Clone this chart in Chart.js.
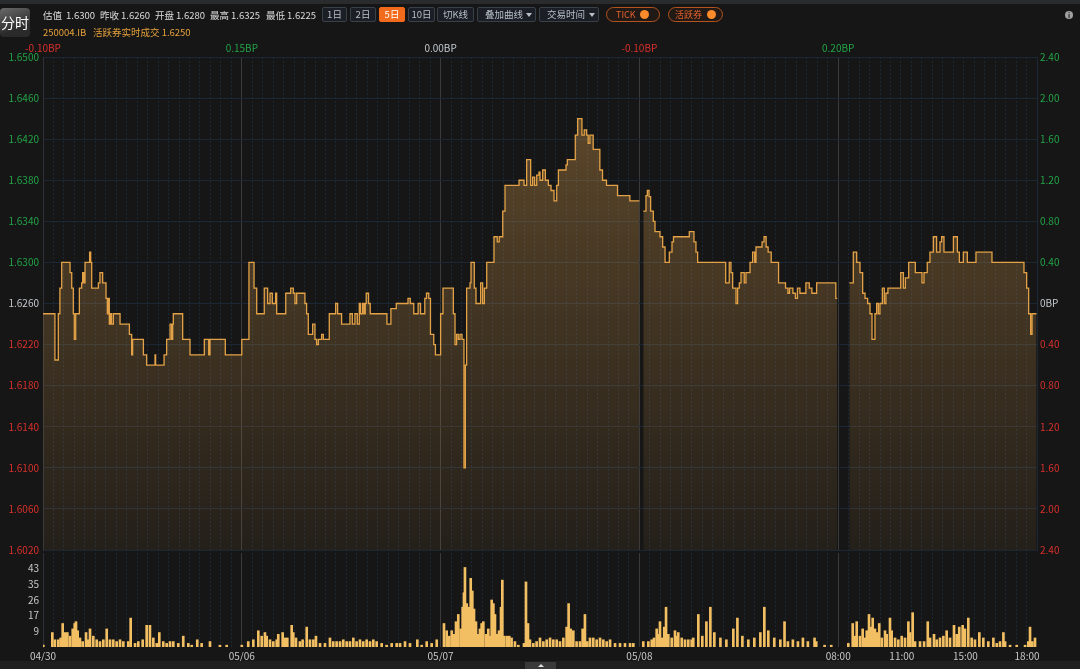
<!DOCTYPE html>
<html lang="zh">
<head>
<meta charset="UTF-8">
<title>250004.IB 分时</title>
<script src="https://cdn.jsdelivr.net/npm/chart.js"></script>
<style>
  body { margin: 0; background: #161616; width: 1080px; height: 669px; overflow: hidden; position: relative;
         font-family: "Noto Sans CJK SC", "Noto Sans", sans-serif; }
  canvas { position: absolute; left: 0; top: 0; }
  .strip { position: absolute; left: 0; top: 0; width: 1080px; height: 4px; background: #2a2b2d; }
  .strip.bottom { top: 661px; height: 8px; background: #1f1f1f; }
  .tab { position: absolute; left: 525px; top: 662px; width: 31px; height: 7px; background: #3a3a3a; }
  .tab:after { content: ""; position: absolute; left: 13px; top: 2px; border-left: 3px solid transparent;
               border-right: 3px solid transparent; border-bottom: 3px solid #ddd; }
  .fs { position: absolute; left: 0; top: 8px; width: 30px; height: 29px; border-radius: 4px;
        background: linear-gradient(160deg, #6a6a6a, #2a2a2a 70%); color: #fff; font-size: 14px;
        line-height: 29px; text-align: center; }
  .t { position: absolute; font-size: 9.5px; color: #dcdcdc; white-space: nowrap; line-height: 12px; }
  .t.o { color: #e6a23c; }
  .btn { position: absolute; top: 7px; height: 15px; box-sizing: border-box; border: 1px solid #38404a;
         background: #1b1f25; color: #b8bfc7; font-size: 9.5px; line-height: 13px; text-align: center; border-radius: 2px; }
  .btn.on { background: #f26a1b; border-color: #f26a1b; color: #fff; }
  .btn.dd { text-align: left; padding-left: 7px; }
  .btn.dd:after { content: ""; position: absolute; right: 3px; top: 5px; border-left: 3px solid transparent;
                  border-right: 3px solid transparent; border-top: 4px solid #b8bfc7; }
  .pill { position: absolute; top: 7px; height: 15px; box-sizing: border-box; border: 1px solid #b4531e;
          background: #201915; color: #e4622c; font-size: 9px; line-height: 13px; border-radius: 8px; }
  .pill i { position: absolute; top: 2px; width: 9px; height: 9px; border-radius: 50%; background: #f98b2a; }
  .info { position: absolute; left: 1065px; top: 11px; width: 8px; height: 8px; border-radius: 50%; background: #a0a0a0;
          color: #222; font-size: 7px; line-height: 8px; text-align: center; font-weight: bold; }
</style>
</head>
<body>
<canvas id="priceChart" width="1080" height="669"></canvas>
<canvas id="volChart" width="1080" height="669"></canvas>

<div class="strip"></div>
<div class="strip bottom"></div>
<div class="tab"></div>
<div class="fs">分时</div>

<div class="t" style="left:43px;top:9px">估值</div><div class="t" style="left:66px;top:9px">1.6300</div>
<div class="t" style="left:100px;top:9px">昨收</div><div class="t" style="left:121px;top:9px">1.6260</div>
<div class="t" style="left:155px;top:9px">开盘</div><div class="t" style="left:176px;top:9px">1.6280</div>
<div class="t" style="left:210px;top:9px">最高</div><div class="t" style="left:231px;top:9px">1.6325</div>
<div class="t" style="left:266px;top:9px">最低</div><div class="t" style="left:287px;top:9px">1.6225</div>
<div class="t o" style="left:43px;top:26px">250004.IB</div>
<div class="t o" style="left:93px;top:26px">活跃券实时成交 1.6250</div>

<div class="btn" style="left:322px;width:25px">1日</div>
<div class="btn" style="left:350px;width:26px">2日</div>
<div class="btn on" style="left:379px;width:26px">5日</div>
<div class="btn" style="left:408px;width:27px">10日</div>
<div class="btn" style="left:437px;width:37px">切K线</div>
<div class="btn dd" style="left:477px;width:59px">叠加曲线</div>
<div class="btn dd" style="left:539px;width:60px">交易时间</div>
<div class="pill" style="left:606px;width:54px;padding-left:9px">TICK<i style="left:33px"></i></div>
<div class="pill" style="left:668px;width:55px;padding-left:6px">活跃券<i style="left:38px"></i></div>
<div class="info">i</div>

<script>
    // each session is SESSION units wide on the x axis; points are [time in session, value]
    const SESSION = 200;
    const preClose = 1.6260;

    const xTickPos = [0, 200, 400, 600, 800, 864, 928, 990];
    const xTickText = ['04/30', '05/06', '05/07', '05/08', '08:00', '11:00', '15:00', '18:00'];
    const dayChangeBP = [-0.10, 0.15, 0.00, -0.10, 0.20];

    const priceTicks = [1.6020, 1.6060, 1.6100, 1.6140, 1.6180, 1.6220, 1.6260, 1.6300, 1.6340, 1.6380, 1.6420, 1.6460, 1.6500];
    const bpTicks = [-2.4, -2.0, -1.6, -1.2, -0.8, -0.4, 0, 0.4, 0.8, 1.2, 1.6, 2.0, 2.4];
    const volMax = 52;

    const p0430 = [[0, 1.6250], [12, 1.6205], [15.4, 1.6250], [17, 1.6275], [18.8, 1.6300], [27.2, 1.6290], [28.9, 1.6275],
        [30.5, 1.6250], [31.5, 1.6225], [32.9, 1.6250], [36.6, 1.6275], [38.9, 1.6280], [39.9, 1.6290], [41.2, 1.6280],
        [42.3, 1.6300], [46.9, 1.6310], [48, 1.6300], [49, 1.6275], [55.7, 1.6280], [57.3, 1.6290], [60, 1.6280],
        [63.4, 1.6265], [64.7, 1.6250], [65.7, 1.6265], [66.7, 1.6240], [68, 1.6250], [69, 1.6240], [70.8, 1.6250],
        [77.5, 1.6240], [86.9, 1.6230], [89.2, 1.6210], [90.2, 1.6225], [101, 1.6210], [104.3, 1.6200], [112.7, 1.6210],
        [113.3, 1.6200], [121.8, 1.6210], [124.4, 1.6225], [127.8, 1.6240], [129.4, 1.6225], [130.5, 1.6240],
        [131.1, 1.6250], [140.5, 1.6225], [147.9, 1.6210], [162.3, 1.6225], [166.7, 1.6210], [168, 1.6225], [183.4, 1.6210]];
    const p0506 = [[0, 1.6225], [7.2, 1.6300], [12.3, 1.6275], [15, 1.6250], [22.6, 1.6275], [26, 1.6260], [28.4, 1.6270],
        [30.7, 1.6260], [34, 1.6270], [35.1, 1.6250], [44.2, 1.6270], [49.2, 1.6275], [51.8, 1.6270], [53.5, 1.6260],
        [55.2, 1.6270], [63.5, 1.6260], [65.2, 1.6250], [66.9, 1.6230], [71.3, 1.6240], [73.6, 1.6225], [75.3, 1.6220],
        [77, 1.6225], [80.3, 1.6230], [82, 1.6225], [88, 1.6250], [94.4, 1.6260], [96.4, 1.6250], [100.4, 1.6240],
        [108.8, 1.6250], [111.2, 1.6240], [113.8, 1.6250], [116.2, 1.6240], [118.2, 1.6260], [119.5, 1.6250],
        [121.5, 1.6260], [122.9, 1.6250], [124.2, 1.6260], [125.2, 1.6270], [127.5, 1.6260], [129.2, 1.6250],
        [146, 1.6240], [150, 1.6255], [155.4, 1.6260], [167.2, 1.6265], [169.5, 1.6260], [173, 1.6250], [177.4, 1.6260],
        [179.8, 1.6250], [184.1, 1.6265], [185.8, 1.6270], [188.1, 1.6265], [189.8, 1.6230], [193.1, 1.6220], [194.8, 1.6210]];
    const p0507 = [[0, 1.6250], [2.4, 1.6275], [12.8, 1.6250], [14.5, 1.6220], [16.1, 1.6230], [17.8, 1.6225], [19.5, 1.6230],
        [21.5, 1.6225], [23.5, 1.6100], [24.9, 1.6200], [26.2, 1.6275], [29.6, 1.6280], [30.6, 1.6300], [33.9, 1.6275],
        [35.6, 1.6260], [40.3, 1.6280], [42.3, 1.6260], [44, 1.6275], [46.4, 1.6300], [53.7, 1.6325], [57, 1.6320],
        [59, 1.6325], [62.5, 1.6350], [64.8, 1.6375], [78.9, 1.6380], [83.9, 1.6375], [86.6, 1.6400], [90.6, 1.6375],
        [92.6, 1.6383], [94.6, 1.6375], [96.7, 1.6385], [99, 1.6388], [100, 1.6380], [102.7, 1.6390], [105.4, 1.6380],
        [108.4, 1.6375], [111.1, 1.6370], [114.1, 1.6360], [116.8, 1.6375], [118.5, 1.6390], [126.2, 1.6395],
        [127.5, 1.6400], [135.5, 1.6424], [137.9, 1.6440], [142.2, 1.6424], [144.5, 1.6429], [146.9, 1.6424],
        [148.5, 1.6416], [150.2, 1.6424], [153.5, 1.6410], [160.2, 1.6390], [162.9, 1.6380], [166.9, 1.6375],
        [178, 1.6365], [190.4, 1.6360], [200, 1.6360]];
    const p0508 = [[0, null], [3.9, 1.6350], [6.6, 1.6365], [8, 1.6370], [9.7, 1.6364], [11.3, 1.6350], [14, 1.6340],
        [15.7, 1.6330], [20.7, 1.6325], [23.4, 1.6315], [25.8, 1.6300], [30.1, 1.6310], [32.8, 1.6320], [34.3, 1.6325],
        [50.2, 1.6330], [54.9, 1.6320], [56.9, 1.6310], [58.6, 1.6300], [86.8, 1.6280], [90.4, 1.6300], [92.1, 1.6290],
        [93.8, 1.6275], [97.2, 1.6260], [98.8, 1.6275], [100.5, 1.6280], [102.2, 1.6290], [105.5, 1.6280], [107.2, 1.6290],
        [111.3, 1.6300], [113.9, 1.6310], [116, 1.6300], [117.3, 1.6315], [123.4, 1.6320], [125.4, 1.6325],
        [127.5, 1.6315], [129.5, 1.6310], [132.6, 1.6300], [140, 1.6280], [147, 1.6275], [149.4, 1.6270], [151, 1.6275],
        [154.4, 1.6270], [157, 1.6265], [159, 1.6275], [161.5, 1.6270], [167.5, 1.6280], [170.9, 1.6275], [173.5, 1.6270],
        [178.3, 1.6280], [197.6, 1.6265], [199, 1.6265]];
    const p0509 = [[0, null], [11.2, 1.6280], [15.2, 1.6310], [18.6, 1.6300], [21.9, 1.6290], [24.6, 1.6270], [27, 1.6265],
        [29.6, 1.6260], [32, 1.6250], [34, 1.6225], [37, 1.6250], [38.7, 1.6260], [40.4, 1.6250], [42, 1.6260],
        [44.4, 1.6275], [46.4, 1.6260], [48, 1.6270], [50, 1.6275], [62.9, 1.6290], [65.6, 1.6275], [67.6, 1.6285],
        [70.9, 1.6300], [77.6, 1.6290], [84.3, 1.6280], [86.3, 1.6290], [89.6, 1.6300], [92.3, 1.6310], [95.7, 1.6325],
        [99, 1.6310], [102.4, 1.6320], [104.1, 1.6325], [106.4, 1.6310], [115.9, 1.6325], [119.9, 1.6310],
        [121.9, 1.6300], [125.9, 1.6310], [129.9, 1.6300], [138.6, 1.6310], [154.7, 1.6300], [186.9, 1.6290],
        [189.6, 1.6275], [191.6, 1.6250], [193.6, 1.6230], [195, 1.6250], [199.5, 1.6250]];

    const v0430 = [[0.3, 1], [9.4, 8], [12, 4], [15.4, 4], [17.8, 5], [19.8, 13], [22, 8], [24.5, 8], [27.2, 6], [29.9, 10],
        [31.9, 13], [33.2, 14], [34.9, 9], [37.2, 5], [39.9, 3], [43.3, 8], [45.6, 4], [47.3, 10], [50.6, 6], [54, 4],
        [57.3, 3], [60.7, 4], [64.1, 10], [67.4, 4], [70.7, 4], [74.1, 3], [77.5, 4], [80.8, 3], [85.8, 3], [88.2, 16],
        [92.6, 2], [95.9, 3], [100.3, 4], [104.3, 12], [107.6, 12], [111, 5], [114.4, 2], [117, 8], [121, 3], [124.4, 2],
        [127.8, 3], [131.1, 3], [136.1, 2], [141.1, 6], [146.2, 2], [149.6, 1], [155.2, 4], [159.6, 2], [168, 3],
        [178, 1], [184.8, 1]];
    const v0506 = [[0, 1], [6.5, 3], [11.6, 4], [16.6, 9], [20, 6], [23.3, 8], [25, 6], [28.4, 4], [31.7, 3], [35.1, 4],
        [36.7, 7], [41.1, 8], [43.5, 5], [45.8, 5], [50.2, 12], [51.8, 8], [54.5, 5], [58.5, 3], [61.2, 4], [65.3, 11],
        [68.6, 4], [72, 4], [74.6, 6], [78.7, 2], [83.7, 2], [88.7, 5], [92, 3], [95.4, 3], [98.8, 3], [102.1, 4],
        [105.5, 3], [108.8, 3], [112.2, 5], [115.5, 3], [118.9, 4], [122.2, 3], [125.6, 4], [129, 3], [132.3, 4],
        [135.7, 3], [140.7, 2], [145.7, 1], [150.8, 2], [155.8, 2], [159.2, 2], [164.2, 3], [169.2, 2], [176.6, 4],
        [181, 1], [186, 3], [191, 2], [196.1, 4]];
    const v0507 = [[3.4, 13], [6.1, 9], [8.8, 6], [11.2, 9], [13.5, 7], [15.5, 14], [17.8, 18], [20.2, 10], [22.2, 22],
        [23.5, 30], [24.5, 44], [26.3, 24], [27.9, 16], [28.9, 22], [30.3, 38], [31.9, 31], [33.6, 21], [35.6, 14],
        [37.9, 7], [39.6, 10], [41.3, 13], [43, 14], [45.7, 7], [48, 10], [49.7, 6], [51.4, 26], [53.1, 24], [54.7, 18],
        [56.4, 7], [58.8, 9], [60.8, 22], [62.1, 37], [63.8, 6], [66.5, 6], [69.1, 6], [71.4, 5], [74.8, 3], [78.2, 1],
        [83.9, 2], [85.9, 36], [87.9, 13], [89.9, 4], [93.3, 2], [96.6, 3], [100, 5], [103.4, 3], [106.7, 4], [110.1, 5],
        [113.4, 4], [116.8, 4], [120.1, 3], [123.5, 5], [126.8, 11], [128.8, 24], [130.8, 10], [133.5, 9], [136.8, 3],
        [140.2, 3], [142.9, 10], [145.2, 18], [147.6, 3], [150.3, 5], [153.6, 5], [157, 4], [160.4, 5], [163.7, 4],
        [167.1, 3], [170.5, 4], [175.5, 2], [180.5, 2], [185.5, 2], [190.6, 2], [193.9, 2]];
    const v0508 = [[3.9, 3], [9, 3], [12.4, 4], [14.7, 5], [17.4, 10], [19, 7], [20.7, 14], [23, 5], [25, 11], [26.8, 22],
        [29.1, 7], [32.5, 5], [35.8, 9], [37.5, 6], [39.1, 8], [42.6, 5], [45.9, 4], [49.2, 4], [52.6, 4], [54.2, 5],
        [59.3, 18], [63.3, 6], [67.4, 14], [71.4, 22], [75.4, 8], [81.5, 5], [87.5, 4], [94.5, 10], [98.6, 16],
        [103.6, 6], [109.6, 4], [115.6, 5], [121.7, 8], [125.7, 22], [129.7, 9], [135.7, 5], [141.8, 4], [146, 14],
        [149.4, 3], [154.4, 4], [159.5, 3], [164.5, 5], [169.5, 3], [176.2, 5], [177.9, 3], [186.3, 1], [193, 1]];
    const v0509 = [[10.2, 2], [14.6, 13], [16.9, 6], [18.6, 14], [21.9, 6], [24.6, 10], [27, 5], [28.7, 9], [31, 18],
        [32.7, 11], [34.7, 16], [37, 10], [38.7, 8], [41.3, 13], [43.8, 5], [47.1, 9], [48.8, 7], [52.1, 16], [53.8, 9],
        [57.2, 5], [60.5, 4], [63.9, 6], [67.2, 5], [70.6, 14], [72.3, 8], [74.9, 19], [77.3, 3], [82.3, 3], [86.4, 3],
        [90.1, 14], [92.4, 5], [96.4, 7], [99.1, 4], [102.4, 5], [105.8, 6], [109.1, 9], [112.5, 5], [116.5, 12],
        [119.2, 7], [121.8, 11], [125.2, 12], [127.5, 10], [130.9, 16], [134.3, 5], [137.6, 4], [142, 8], [146, 5],
        [151, 3], [156.1, 5], [159.5, 2], [162.8, 3], [166.2, 8], [167.9, 3], [172.9, 1], [179.6, 1], [188, 1],
        [191.3, 3], [193, 11], [195.3, 3], [198, 5]];

    const priceDays = [p0430, p0506, p0507, p0508, p0509];
    const volDays = [v0430, v0506, v0507, v0508, v0509];

    const GREEN = '#22a447', RED = '#d9302c', GREY = '#c4c8cc';
    const AXIS_FONT = { family: '"Noto Sans CJK SC", "Noto Sans", sans-serif', size: 10 };

    function toPoints(days) {
        const out = [];
        days.forEach((day, d) => day.forEach(([t, v]) => out.push({ x: d * SESSION + t, y: v })));
        return out;
    }

    function signColor(v, ref) {
        if (Math.abs(v - ref) < 1e-9) return GREY;
        return v > ref ? GREEN : RED;
    }

    function fixedTicks(list) {
        return scale => { scale.ticks = list.map(v => ({ value: v })); };
    }

    const xMax = SESSION * priceDays.length;
    const gridStep = SESSION / 19;
    const minorGrid = [];
    for (let v = gridStep; v < xMax - 1; v += gridStep) minorGrid.push(v);
    const dayLines = [1, 2, 3, 4].map(d => d * SESSION);

    function gridAxis(ticks, color, dash) {
        return {
            type: 'linear', min: 0, max: xMax, position: 'bottom', offset: false,
            afterBuildTicks: fixedTicks(ticks),
            afterFit: s => { s.height = 0; },
            ticks: { display: false },
            grid: { color: color, drawTicks: false, offset: false },
            border: { display: false, dash: dash }
        };
    }

    const fillGradient = ctx => {
        const area = ctx.chart.chartArea;
        if (!area) return 'rgba(205,150,75,0.2)';
        const g = ctx.chart.ctx.createLinearGradient(0, area.top, 0, area.bottom);
        g.addColorStop(0, 'rgba(205,150,75,0.42)');
        g.addColorStop(1, 'rgba(205,150,75,0.08)');
        return g;
    };

    new Chart(document.getElementById('priceChart'), {
        type: 'line',
        data: {
            datasets: [{
                label: '估值',
                data: toPoints(priceDays),
                stepped: true,
                borderColor: '#e3a247',
                borderWidth: 1.3,
                pointRadius: 0,
                fill: 'start',
                backgroundColor: fillGradient,
                xAxisID: 'x',
                yAxisID: 'y'
            }]
        },
        options: {
            responsive: false,
            animation: false,
            events: [],
            layout: { padding: { top: 37, bottom: 119, left: 0, right: 0 } },
            plugins: { legend: { display: false }, tooltip: { enabled: false } },
            scales: {
                x: gridAxis(minorGrid, '#1c2836', [2, 2]),
                xd: gridAxis(dayLines, '#3a3a3a', []),
                x2: {
                    type: 'linear', min: 0, max: xMax, position: 'top',
                    afterBuildTicks: fixedTicks(dayChangeBP.map((_, d) => d * SESSION)),
                    afterFit: s => { s.height = 20; },
                    ticks: {
                        autoSkip: false, maxRotation: 0, padding: 3, font: AXIS_FONT,
                        callback: (v, i) => dayChangeBP[i].toFixed(2) + 'BP',
                        color: c => signColor(dayChangeBP[c.index], 0)
                    },
                    grid: { display: false, drawTicks: false },
                    border: { display: false }
                },
                y: {
                    position: 'left', min: priceTicks[0], max: priceTicks[priceTicks.length - 1],
                    afterBuildTicks: fixedTicks(priceTicks),
                    afterFit: s => { s.width = 43; },
                    ticks: {
                        padding: 4, font: AXIS_FONT,
                        callback: v => v.toFixed(4),
                        color: c => signColor(c.tick.value, preClose)
                    },
                    grid: { color: '#1b2734', drawTicks: false },
                    border: { color: '#2c3138' }
                },
                yr: {
                    position: 'right', min: bpTicks[0], max: bpTicks[bpTicks.length - 1],
                    afterBuildTicks: fixedTicks(bpTicks),
                    afterFit: s => { s.width = 43; },
                    ticks: {
                        padding: 3, font: AXIS_FONT,
                        callback: v => Math.abs(v) < 1e-9 ? '0BP' : Math.abs(v).toFixed(2),
                        color: c => signColor(c.tick.value, 0)
                    },
                    grid: { display: false, drawTicks: false },
                    border: { color: '#1c2836' }
                }
            }
        }
    });

    new Chart(document.getElementById('volChart'), {
        type: 'bar',
        data: {
            datasets: [{
                label: '成交量',
                data: toPoints(volDays),
                backgroundColor: '#f3bf63',
                barThickness: 2,
                xAxisID: 'x',
                yAxisID: 'yv'
            }]
        },
        options: {
            responsive: false,
            animation: false,
            events: [],
            layout: { padding: { top: 553, bottom: 0, left: 0, right: 43 } },
            plugins: { legend: { display: false }, tooltip: { enabled: false } },
            scales: {
                xg: gridAxis(minorGrid, '#1c2836', [2, 2]),
                xd: gridAxis(dayLines, '#3a3a3a', []),
                x: {
                    type: 'linear', min: 0, max: xMax, position: 'bottom', offset: false,
                    afterBuildTicks: fixedTicks(xTickPos),
                    afterFit: s => { s.height = 22; },
                    ticks: {
                        autoSkip: false, maxRotation: 0, padding: 3, font: AXIS_FONT, color: '#c8c8c8',
                        callback: (v, i) => xTickText[i]
                    },
                    grid: { display: false, drawTicks: false, offset: false },
                    border: { display: false }
                },
                yv: {
                    position: 'left', min: 0, max: volMax,
                    afterBuildTicks: fixedTicks([1, 2, 3, 4, 5].map(k => volMax * k / 6)),
                    afterFit: s => { s.width = 43; },
                    ticks: { padding: 4, font: AXIS_FONT, color: '#c8c8c8', callback: v => Math.round(v) },
                    grid: { display: false, drawTicks: false },
                    border: { color: '#2c3138' }
                }
            }
        }
    });
</script>
</body>
</html>
